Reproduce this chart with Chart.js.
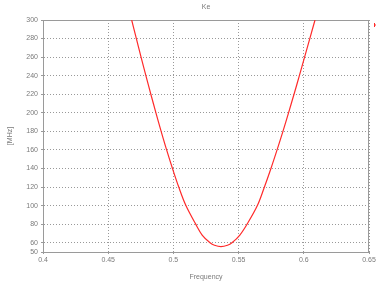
<!DOCTYPE html>
<html><head><meta charset="utf-8">
<script src="https://cdn.jsdelivr.net/npm/chart.js@4"></script>
<style>html,body{margin:0;padding:0;background:#fff;overflow:hidden}</style>
</head>
<body>
<canvas id="c" width="389" height="284"></canvas>
<script>
const chartTitle = 'Ke';
const xTitle = 'Frequency';
const yTitle = '[MHz]';
const frequency = [0.4680,0.4716,0.4752,0.4789,0.4827,0.4866,0.4906,0.4948,0.4993,0.5041,0.5096,0.5171,0.5222,0.5281,0.5315,0.5365,0.5415,0.5449,0.5508,0.5565,0.5644,0.5698,0.5748,0.5795,0.5840,0.5883,0.5925,0.5966,0.6006,0.6046,0.6086];
const keValues  = [300,280,260,240,220,200,180,160,140,120,100,80,68,60,57.3,55.8,57.3,60,68,80,100,120,140,160,180,200,220,240,260,280,300];
const xTickLabels = [0.4,0.45,0.5,0.55,0.6,0.65];
const yTickLabels = [50,60,80,100,120,140,160,180,200,220,240,260,280,300];

const textColor = '#7a7a7a';
const axisColor = '#9a9a9a';
const lineColor = '#ff2a2a';
const tickFont = {family:'"Liberation Sans", Arial, sans-serif', size:7};

const frame = {
  id:'frame',
  beforeDatasetsDraw(chart){
    const {ctx, chartArea:a} = chart;
    ctx.save();
    ctx.strokeStyle = axisColor; ctx.lineWidth = 1;
    ctx.strokeRect(Math.round(a.left)+0.5, Math.round(a.top)+0.5, Math.round(a.right-a.left)-1, Math.round(a.bottom-a.top));
    ctx.restore();
  },
  afterDraw(chart){
    const {ctx, chartArea:a} = chart;
    ctx.save();
    ctx.fillStyle = textColor;
    ctx.font = '7px "Liberation Sans", Arial, sans-serif';
    ctx.textAlign = 'center'; ctx.textBaseline = 'middle';
    ctx.fillText(chartTitle, (a.left+a.right)/2, 7);
    ctx.fillStyle = chart.data.datasets[0].borderColor;
    ctx.fillRect(Math.round(a.right)+5, a.top+3, 1, 4);
    ctx.fillRect(Math.round(a.right)+5, a.top+4.5, 2, 1);
    ctx.restore();
  }
};

new Chart(document.getElementById('c'), {
  type:'scatter',
  data:{datasets:[{
    label:'Ke',
    data: frequency.map((f,i)=>({x:f,y:keValues[i]})),
    showLine:true, borderColor:lineColor, borderWidth:1.2,
    pointRadius:0, tension:0.35, fill:false
  }]},
  options:{
    responsive:false, animation:false, devicePixelRatio:1,
    layout:{padding:{left:0,right:20,top:20,bottom:0}},
    plugins:{legend:{display:false}, tooltip:{enabled:false}, title:{display:false}},
    scales:{
      x:{
        type:'linear', min:0.4, max:0.65,
        afterBuildTicks(s){ s.ticks = xTickLabels.map(v=>({value:v})); },
        afterFit(s){ s.height = 32; },
        ticks:{font:tickFont, color:textColor, padding:2, maxRotation:0, autoSkip:false,
               callback:v=>String(+v.toFixed(2))},
        grid:{color:'#999999', tickColor:axisColor, tickLength:2, lineWidth:1},
        border:{color:axisColor, dash:[1,2]},
        title:{display:true, text:xTitle, color:textColor, font:tickFont, padding:{top:0,bottom:3}}
      },
      y:{
        type:'linear', min:50, max:300,
        afterBuildTicks(s){ s.ticks = yTickLabels.map(v=>({value:v})); },
        afterFit(s){ s.width = 43; },
        ticks:{font:tickFont, color:textColor, padding:3, autoSkip:false},
        grid:{color:'#999999', tickColor:axisColor, tickLength:2, lineWidth:1},
        border:{color:axisColor, dash:[1,2]},
        title:{display:true, text:yTitle, color:textColor, font:tickFont, padding:{top:6,bottom:0}}
      }
    }
  },
  plugins:[frame]
});
</script>
</body></html>
